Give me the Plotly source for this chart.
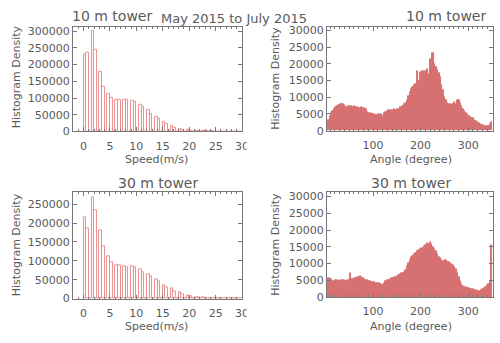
import plotly.graph_objects as go

# ---------------- data ----------------
speed_bins = [i * 0.5 for i in range(60)]  # bin starts, m/s

speed_10m = [228000, 235000, 0, 300000, 243000, 0, 177000, 134000, 0, 113000,
             101000, 0, 96000, 96000, 0, 96000, 95000, 0, 93000, 88000,
             0, 81000, 74000, 0, 64000, 54000, 0, 44000, 38000, 0,
             29000, 23000, 0, 16000, 12000, 0, 8000, 6000, 0, 4000,
             3000, 0, 2000, 1500, 0, 1000, 700, 0, 500, 400,
             0, 300, 200, 0, 150, 100, 0, 80, 50, 0]

speed_30m = [215700, 185800, 0, 267000, 235000, 0, 180000, 138000, 0, 112000,
             96000, 0, 88000, 88000, 0, 86000, 84000, 0, 86000, 83000,
             0, 77000, 70000, 0, 65000, 60000, 0, 50000, 45000, 0,
             35000, 30000, 0, 27000, 20000, 0, 16000, 11000, 0, 9000,
             7000, 0, 4500, 3500, 0, 2500, 1800, 0, 1200, 900,
             0, 600, 400, 0, 250, 200, 0, 100, 80, 0]

angle_bins = list(range(3, 351, 3))  # bin starts, degrees

angle_10m = [2000, 3000, 4200, 5200, 5900, 6500, 7000, 7300, 7600, 7900,
             8000, 7800, 7500, 6900, 6800, 7300, 7200, 7400, 7000, 7200,
             6900, 7100, 6800, 6600, 7000, 6700, 6800, 6300, 5400, 5300,
             5000, 5200, 4800, 5000, 4700, 4600, 4900, 4500, 4800, 4400,
             5200, 5600, 5800, 6200, 5700, 6100, 6000, 6300, 6100, 6500,
             6400, 6900, 6700, 7200, 7800, 8300, 9000, 10200, 11500, 12500,
             13000, 13600, 14000, 17800, 14800, 17500, 15500, 17900, 16500, 17800,
             18500, 17000, 21500, 19500, 23200, 20000, 19000, 18000, 17200, 16000,
             13500, 12000, 10000, 9200, 8200, 8000, 7800, 7600, 7900, 8400,
             8000, 9200, 9000, 8200, 7200, 6500, 5800, 5200, 4800, 4300,
             4000, 3800, 3600, 3200, 2700, 2400, 2100, 1800, 1600, 1500,
             1400, 1300, 1300, 1400, 1800, 2500]

angle_30m = [5300, 5500, 5200, 5400, 4800, 4700, 4900, 5000, 4800, 4900,
             4800, 4900, 5000, 4800, 5100, 5000, 7000, 5200, 5300, 5500,
             5600, 5800, 5900, 6200, 6000, 5600, 5400, 5100, 5000, 4800,
             4700, 4500, 4400, 4300, 4200, 4100, 4000, 3800, 3700, 3500,
             4000, 4700, 5000, 5100, 5300, 5500, 5600, 5800, 6000, 6300,
             6600, 6900, 7200, 7000, 7300, 8000, 9300, 10200, 11000, 11800,
             12200, 12800, 13000, 13600, 13900, 14300, 14600, 14700, 15100, 15500,
             15900, 15600, 16400, 15800, 15000, 14300, 13600, 12800, 12000, 11600,
             11100, 10800, 10600, 10900, 10300, 10500, 10000, 9800, 9500, 9000,
             8300, 7200, 5800, 4600, 3800, 3300, 3000, 2800, 2700, 2500,
             2400, 2300, 2200, 2000, 1900, 1700, 1600, 1800, 2100, 2400,
             2700, 3000, 3400, 3800, 4300, 15500]

speed_ticks = [0, 5, 10, 15, 20, 25, 30]
angle_ticks = [100, 200, 300]

# ---------------- styling ----------------
W, H = 500, 343
TXT = "#5a5a5a"
AX = "#777777"
FONT = "DejaVu Sans"
OUTLINE = "#e89090"
FILL = "#d87272"


def px(x):
    return x / W


def py(y):
    return 1 - y / H


fig = go.Figure()

# speed histograms (outlined bars)
for data, xa, ya in [(speed_10m, "x", "y"), (speed_30m, "x3", "y3")]:
    fig.add_trace(go.Bar(x=speed_bins, y=data, width=0.5, offset=0,
                         marker=dict(color="rgba(255,255,255,0)",
                                     line=dict(color=OUTLINE, width=1)),
                         xaxis=xa, yaxis=ya, showlegend=False))

# angle histograms (filled)
for data, xa, ya in [(angle_10m, "x2", "y2"), (angle_30m, "x4", "y4")]:
    fig.add_trace(go.Bar(x=angle_bins, y=data, width=3, offset=0,
                         marker=dict(color=FILL, line=dict(color=FILL, width=1)),
                         xaxis=xa, yaxis=ya, showlegend=False))

common = dict(showline=True, linecolor=AX, linewidth=1, mirror="allticks",
              ticks="inside", ticklen=4, tickcolor=AX, showgrid=False,
              zeroline=False, tickfont=dict(family=FONT, size=11, color=TXT))

TLx = [px(74), px(245.5)]
TRx = [px(331.7), px(499.5)]

xminor_s = dict(dtick=1, ticklen=2, ticks="inside", tickcolor=AX)
xminor_a = dict(dtick=10, ticklen=2, ticks="inside", tickcolor=AX)

fig.update_layout(
    width=W, height=H, margin=dict(l=0, r=0, t=0, b=0),
    paper_bgcolor="white", plot_bgcolor="white", bargap=0,
    xaxis=dict(domain=TLx, range=[-2, 30], tickvals=speed_ticks, anchor="y",
               ticklabelstandoff=4, minor=xminor_s, **common),
    yaxis=dict(domain=[py(132.3), py(24.5)], range=[0, 313000], dtick=50000,
               tickformat="d", anchor="x", **common),
    xaxis2=dict(domain=TRx, range=[3.5, 351], tickvals=angle_ticks, anchor="y2",
                ticklabelstandoff=4, minor=xminor_a, **common),
    yaxis2=dict(domain=[py(131.5), py(25)], range=[0, 30960], dtick=5000,
                tickformat="d", anchor="x2", **common),
    xaxis3=dict(domain=TLx, range=[-2, 30], tickvals=speed_ticks, anchor="y3",
                ticklabelstandoff=4, minor=xminor_s, **common),
    yaxis3=dict(domain=[py(304.4), py(195)], range=[0, 281500], dtick=50000,
                tickformat="d", anchor="x3", **common),
    xaxis4=dict(domain=TRx, range=[3.5, 351], tickvals=angle_ticks, anchor="y4",
                ticklabelstandoff=4, minor=xminor_a, **common),
    yaxis4=dict(domain=[py(303), py(195)], range=[0, 31240], dtick=5000,
                tickformat="d", anchor="x4", **common),
)

# the reference picture is cut just right of the left panels' "30" label
for y0, y1 in [(137, 156), (308, 327)]:
    fig.add_shape(type="rect", xref="paper", yref="paper", layer="above",
                  x0=px(250), x1=px(258), y0=py(y1), y1=py(y0),
                  fillcolor="white", line=dict(width=0))


def note(text, x, y, size, angle=0):
    fig.add_annotation(text=text, x=px(x), y=py(y), xref="paper", yref="paper",
                       showarrow=False, textangle=angle, xanchor="center",
                       yanchor="middle", font=dict(family=FONT, size=size, color=TXT))


note("10 m tower", 114, 13.5, 14)
note("May 2015 to July 2015", 237, 16, 13)
note("10 m tower", 452, 13.5, 14)
note("30 m tower", 160, 185, 14)
note("30 m tower", 416.7, 185, 14)
note("Speed(m/s)", 158.3, 161.7, 11)
note("Speed(m/s)", 158.3, 332.7, 11)
note("Angle (degree)", 416.7, 161.7, 11)
note("Angle (degree)", 416.7, 333.3, 11)
note("Histogram Density", 16.7, 76, 11, -90)
note("Histogram Density", 16.7, 249, 11, -90)
note("Histogram Density", 280, 78, 11, -90)
note("Histogram Density", 280, 249, 11, -90)

fig.write_html("out.html")
